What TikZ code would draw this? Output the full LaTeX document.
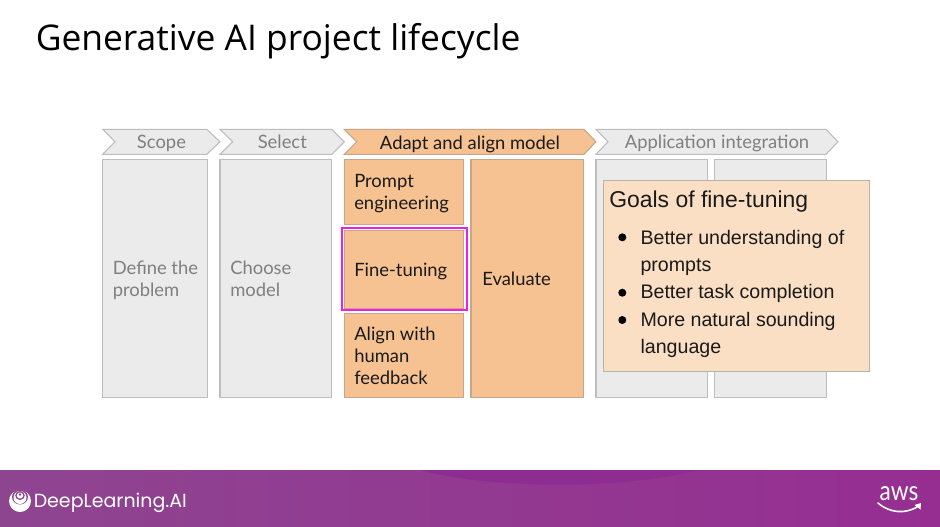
\documentclass[tikz,border=0pt]{standalone}
\usepackage{fontspec}
\usepackage{graphicx}
\setmainfont{Lato}
\newfontfamily\titlefont{Open Sans}
\newfontfamily\armfont{Liberation Sans}
\newfontfamily\popfont{Poppins}
\usetikzlibrary{calc}
\definecolor{grayfill}{HTML}{EBEBEB}
\definecolor{graydraw}{HTML}{BDBDBD}
\definecolor{graytext}{HTML}{7F7F7F}
\definecolor{orfill}{HTML}{F6C291}
\definecolor{ordraw}{HTML}{C9A68A}
\definecolor{calfill}{HTML}{FBDFC4}
\definecolor{caldraw}{HTML}{BDB1A5}
\definecolor{hl}{HTML}{EE1FE0}
\definecolor{footl}{HTML}{8E4590}
\definecolor{footr}{HTML}{962E92}
\definecolor{footd}{HTML}{8E2C92}
\definecolor{ink}{HTML}{1A1A1A}
\tikzset{
  grayshape/.style={draw=graydraw,fill=grayfill,line width=0.8pt},
  orshape/.style={draw=ordraw,fill=orfill,line width=0.8pt},
  graylabel/.style={inner sep=0pt,anchor=base west,text=graytext,font=\fontsize{13.8}{16.5}\selectfont,align=left},
  orlabel/.style={inner sep=0pt,anchor=base west,text=ink,font=\fontsize{13.8}{16.5}\selectfont,align=left},
  boxnode/.style={anchor=north west,inner sep=0pt,outer sep=0pt},
  bulletdot/.style={circle,fill=black,inner sep=0pt,minimum size=6pt},
  bullettext/.style={inner sep=0pt,anchor=base west,text=ink,font=\armfont\fontsize{14.7}{20.6}\selectfont,align=left}
}
\newcommand{\pxbox}[7]{% style,name,x0,y0,x1,y1,label unused
  \path let \n1={(#5-#3)*0.75},\n2={(#6-#4)*0.75} in
    node[boxnode,#1,minimum width=\n1 pt,minimum height=\n2 pt] (#2) at (#3,#4) {};}
\newcommand{\chev}[7]{% style,name,x0,notch,rstart,x1,label
  \draw[#1] (#3,129.3) -- (#5,129.3) -- (#6,141.8) -- (#5,154.3) -- (#3,154.3) -- (#4,141.8) -- cycle;
  \coordinate (#2) at (#3,141.8);}
\begin{document}
\begin{tikzpicture}[x=0.75pt,y=-0.75pt]
\useasboundingbox (0,0) rectangle (940,526);
\fill[white] (0,0) rectangle (940,526);

\node[anchor=base west,inner sep=0pt,text=black,font=\titlefont\fontsize{26.55}{30}\selectfont] (title) at (35.5,50.5) {Generative AI project lifecycle};

% header chevrons
\chev{grayshape}{cScope}{102.7}{115}{206.7}{220}{}
\chev{grayshape}{cSelect}{220}{232.7}{331.7}{344.3}{}
\chev{orshape}{cAdapt}{344.3}{356.7}{584}{596}{}
\chev{grayshape}{cApp}{596}{608}{826}{838}{}
\node[graylabel,anchor=base] (lScope) at (161.5,148.3) {Scope};
\node[graylabel,anchor=base] (lSelect) at (282.3,148.3) {Select};
\node[orlabel,anchor=base] (lAdapt) at (470,149) {Adapt and align model};
\node[graylabel,anchor=base] (lApp) at (717,148.3) {Application integration};

% columns
\pxbox{grayshape}{bDefine}{102.7}{159.5}{207.7}{397.5}{}
\pxbox{grayshape}{bChoose}{220}{159.5}{331.7}{397.5}{}
\pxbox{orshape}{bPrompt}{344.3}{159.5}{463.7}{224.7}{}
\pxbox{orshape}{bFine}{344.3}{230.7}{463.7}{308.3}{}
\pxbox{orshape}{bAlign}{344.3}{313.3}{463.7}{397.5}{}
\pxbox{orshape}{bEval}{471}{159.5}{583.7}{397.5}{}
\pxbox{grayshape}{bApp1}{596}{159.5}{707.7}{397.5}{}
\pxbox{grayshape}{bApp2}{714.3}{159.5}{826.3}{397.5}{}
\pxbox{draw=hl,line width=1.5pt}{bHl}{341.7}{227.7}{466.7}{310.3}{}

\node[graylabel] (lDefine) at (112.5,296) {Define the\\problem};
\node[graylabel] (lChoose) at (230,296) {Choose\\model};
\node[orlabel] (lPrompt) at (354,209.3) {Prompt\\engineering};
\node[orlabel] (lFine) at (354,276.7) {Fine-tuning};
\node[orlabel] (lAlign) at (354,384.3) {Align with\\human\\feedback};
\node[orlabel] (lEval) at (482,285) {Evaluate};

% callout
\pxbox{draw=caldraw,fill=calfill,line width=0.8pt}{bGoals}{603.3}{180.7}{869.7}{371.7}{}
\node[anchor=base west,inner sep=0pt,text=ink,font=\armfont\fontsize{17.2}{20}\selectfont] (gTitle) at (609,207.5) {Goals of fine-tuning};
\node[bulletdot] (d1) at (622.3,237.3) {};
\node[bulletdot] (d2) at (622.3,292.7) {};
\node[bulletdot] (d3) at (622.3,320) {};
\node[bullettext] (g1) at (640.3,271.5) {Better understanding of\\prompts};
\node[bullettext] (g2) at (640.3,298.5) {Better task completion};
\node[bullettext] (g3) at (640.3,353.5) {More natural sounding\\language};

% footer
\shade[left color=footl,right color=footr] (0,470) rectangle (940,526);
\fill[footd,opacity=.9] (420,470) .. controls (480,487) and (610,492) .. (700,470) -- cycle;

% logo
\fill[white] (20,501) circle (11);
\fill[footl] (20,497) ellipse (8 and 7.5);
\fill[white] (20,497.5) ellipse (6.5 and 6.5);
\fill[footl] (20,495.5) ellipse (4.8 and 4.5);
\fill[white] (20,495.5) ellipse (3.2 and 3);
\fill[footl] (20,494.5) ellipse (1.5 and 1.4);
\node[anchor=base west,inner sep=0pt,text=white,font=\popfont\fontsize{14.25}{18}\selectfont] (dl) at (33.5,507) {DeepLearning.AI};

\node[anchor=base,inner sep=0pt,text=white,font=\fontsize{17}{18}\selectfont] (aws) at (899,500.7) {\scalebox{1}[1.2]{aws}};
\coordinate (smA) at (878,503);
\draw[white,line width=1.2pt,line cap=round] (smA) .. controls (890,513.5) and (906,514) .. (918,506.5);
\fill[white] (921,503) -- (920.5,509.5) -- (914.5,505) -- cycle;
\end{tikzpicture}
\end{document}
